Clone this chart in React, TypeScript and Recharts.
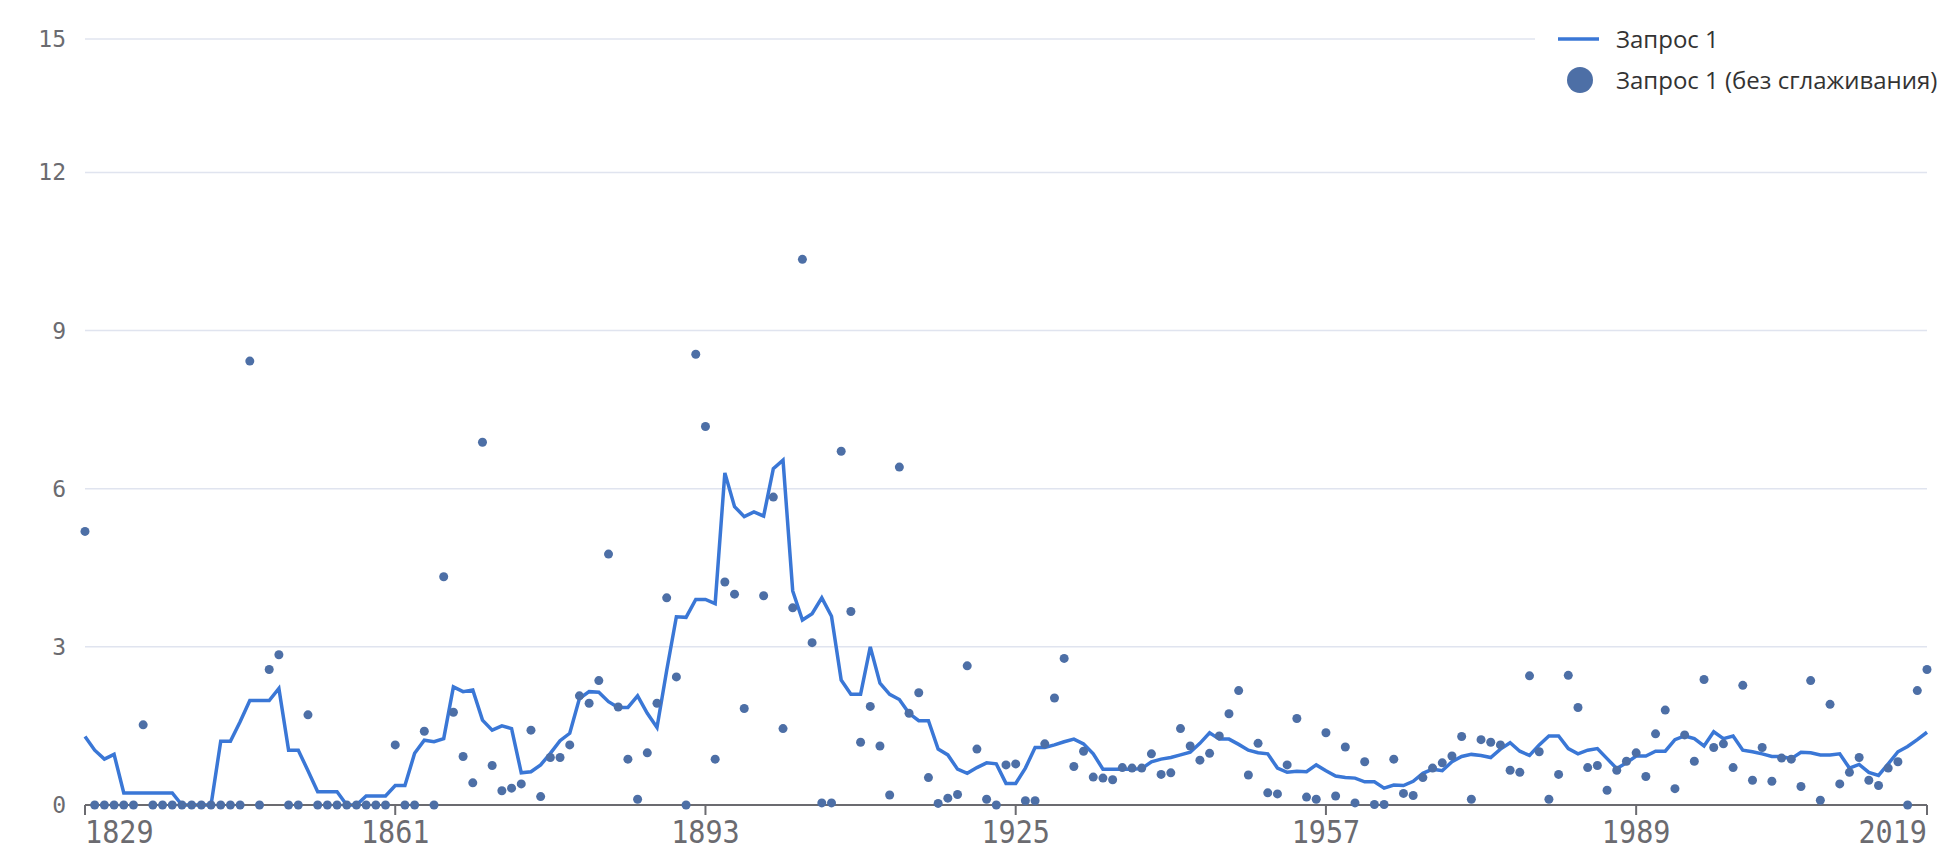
import React from "react";
import {
  LineChart,
  Line,
  XAxis,
  YAxis,
  CartesianGrid,
} from "recharts";

const START_YEAR = 1829;

// smoothed series, one value per year from 1829 to 2019
const smoothed = [
  1.3, 1.04, 0.87, 0.96, 0.23, 0.23, 0.23, 0.23, 0.23, 0.23,
  0, 0, 0, 0, 1.21, 1.21, 1.58, 1.98, 1.98, 1.98,
  2.21, 1.04, 1.04, 0.65, 0.25, 0.25, 0.25, 0, 0, 0.17,
  0.17, 0.17, 0.37, 0.37, 0.98, 1.23, 1.2, 1.26, 2.24, 2.15,
  2.18, 1.61, 1.42, 1.5, 1.45, 0.61, 0.63, 0.76, 0.98, 1.22,
  1.36, 2.02, 2.15, 2.14, 1.96, 1.85, 1.85, 2.07, 1.74, 1.47,
  2.55, 3.57, 3.56, 3.9, 3.9, 3.82, 6.3, 5.66, 5.47, 5.56,
  5.48, 6.38, 6.54, 4.06, 3.51, 3.63, 3.93, 3.58, 2.37, 2.1,
  2.1, 3.0, 2.31, 2.1, 2.0, 1.74, 1.6, 1.6, 1.06, 0.95,
  0.68, 0.6, 0.71, 0.8, 0.78, 0.41, 0.41, 0.7, 1.09, 1.09,
  1.14, 1.2, 1.25, 1.16, 0.97, 0.68, 0.68, 0.68, 0.68, 0.69,
  0.82, 0.87, 0.9, 0.95, 1.0, 1.17, 1.37, 1.25, 1.25, 1.15,
  1.04, 0.99, 0.97, 0.7, 0.62, 0.64, 0.63, 0.76, 0.65, 0.55,
  0.52, 0.51, 0.44, 0.44, 0.32, 0.38, 0.37, 0.45, 0.6, 0.68,
  0.65, 0.82, 0.92, 0.96, 0.94, 0.9, 1.06, 1.18, 1.02, 0.94,
  1.14, 1.31, 1.31, 1.07, 0.97, 1.04, 1.07, 0.88, 0.69, 0.8,
  0.93, 0.93, 1.02, 1.02, 1.24, 1.31, 1.26, 1.12, 1.39, 1.26,
  1.31, 1.04, 1.01, 0.97, 0.92, 0.92, 0.88, 1.0, 0.99, 0.95,
  0.95, 0.97, 0.7, 0.77, 0.62, 0.56, 0.78, 1.01, 1.11, 1.24,
  1.38,
];

// raw yearly values (no smoothing), 1829 to 2019
const raw: (number | null)[] = [
  5.19, 0, 0, 0, 0, 0, 1.52, 0, 0, 0,
  0, 0, 0, 0, 0, 0, 0, 8.42, 0, 2.57,
  2.85, 0, 0, 1.71, 0, 0, 0, 0, 0, 0,
  0, 0, 1.14, 0, 0, 1.4, 0, 4.33, 1.76, 0.92,
  0.42, 6.88, 0.75, 0.27, 0.32, 0.4, 1.42, 0.16, 0.9, 0.9,
  1.14, 2.07, 1.93, 2.36, 4.76, 1.86, 0.87, 0.11, 0.99, 1.93,
  3.93, 2.43, 0, 8.55, 7.18, 0.87, 4.23, 4.0, 1.83, null,
  3.97, 5.84, 1.45, 3.74, 10.35, 3.08, 0.04, 0.04, 6.71, 3.67,
  1.19, 1.87, 1.12, 0.19, 6.41, 1.74, 2.13, 0.52, 0.03, 0.13,
  0.2, 2.64, 1.06, 0.11, 0, 0.76, 0.78, 0.08, 0.08, 1.16,
  2.03, 2.78, 0.73, 1.02, 0.53, 0.51, 0.48, 0.71, 0.7, 0.7,
  0.97, 0.58, 0.61, 1.45, 1.12, 0.85, 0.98, 1.31, 1.73, 2.17,
  0.57, 1.17, 0.23, 0.21, 0.76, 1.64, 0.15, 0.11, 1.37, 0.17,
  1.1, 0.04, 0.82, 0.01, 0.01, 0.87, 0.22, 0.18, 0.52, 0.7,
  0.8, 0.93, 1.3, 0.11, 1.24, 1.19, 1.14, 0.66, 0.62, 2.45,
  1.01, 0.11, 0.58, 2.46, 1.85, 0.71, 0.75, 0.28, 0.66, 0.83,
  0.99, 0.54, 1.35, 1.8, 0.31, 1.33, 0.83, 2.38, 1.09, 1.16,
  0.71, 2.27, 0.47, 1.09, 0.45, 0.89, 0.87, 0.35, 2.36, 0.09,
  1.91, 0.4, 0.62, 0.9, 0.47, 0.37, 0.7, 0.82, 0, 2.17,
  2.57,
];

const xTicks = [1829, 1861, 1893, 1925, 1957, 1989, 2019];
const yTicks = [0, 3, 6, 9, 12, 14.53];

const seriesNames = ["Запрос 1", "Запрос 1 (без сглаживания)"];

const data = smoothed.map((v, i) => ({
  year: START_YEAR + i,
  smooth: v,
  raw: raw[i],
}));

const LINE_COLOR = "#3a77d6";
const DOT_COLOR = "#4d6fa6";
const AXIS_COLOR = "#6b6b70";

const YearTick = (props: any) => {
  const { x, y, payload } = props;
  let anchor = "middle";
  if (payload.value === xTicks[0]) anchor = "start";
  if (payload.value === xTicks[xTicks.length - 1]) anchor = "end";
  return (
    <text
      x={x}
      y={y + 26}
      textAnchor={anchor}
      fill={AXIS_COLOR}
      fontSize={32}
      fontFamily="DejaVu Sans Mono"
      transform={`translate(${x} 0) scale(0.89 1) translate(${-x} 0)`}
    >
      {payload.value}
    </text>
  );
};

const ValueTick = (props: any) => {
  const { x, y, payload } = props;
  return (
    <text
      x={x}
      y={y}
      dy={8}
      textAnchor="end"
      fill={AXIS_COLOR}
      fontSize={23}
      fontFamily="DejaVu Sans Mono"
    >
      {Math.round(payload.value)}
    </text>
  );
};

// legend drawn on top of the chart, top right
const LegendBox = () => (
  <div
    style={{
      position: "absolute",
      left: 1535,
      top: 0,
      width: 419,
      height: 102,
      background: "#fff",
      fontFamily: "'Open Sans', sans-serif",
      fontSize: 24,
      color: "#333",
    }}
  >
    <div style={{ position: "absolute", top: 19, left: 23, height: 40, display: "flex", alignItems: "center" }}>
      <svg width={41} height={40}>
        <line x1={0} x2={41} y1={20} y2={20} stroke={LINE_COLOR} strokeWidth={3.5} />
      </svg>
      <span style={{ marginLeft: 17, lineHeight: "40px" }}>{seriesNames[0]}</span>
    </div>
    <div style={{ position: "absolute", top: 60, left: 23, height: 40, display: "flex", alignItems: "center" }}>
      <svg width={41} height={40}>
        <circle cx={22} cy={20} r={13} fill={DOT_COLOR} />
      </svg>
      <span style={{ marginLeft: 17, lineHeight: "40px" }}>{seriesNames[1]}</span>
    </div>
  </div>
);

export default function App() {
  return (
    <div style={{ position: "absolute", left: 0, top: 0, width: 1954, height: 856, background: "#fff" }}>
      <LineChart
        width={1954}
        height={856}
        data={data}
        margin={{ top: 39, right: 27, bottom: 11, left: 25 }}
      >
        <CartesianGrid vertical={false} stroke="#e0e4ef" strokeWidth={1.5} />
        <XAxis
          dataKey="year"
          type="number"
          domain={[1829, 2019]}
          ticks={xTicks}
          interval={0}
          height={40}
          axisLine={{ stroke: AXIS_COLOR, strokeWidth: 2 }}
          tickLine={{ stroke: AXIS_COLOR, strokeWidth: 2 }}
          tickSize={10}
          tick={<YearTick />}
        />
        <YAxis
          width={60}
          domain={[0, 14.53]}
          ticks={yTicks}
          interval={0}
          axisLine={false}
          tickLine={false}
          tickSize={0}
          tickMargin={19}
          tick={<ValueTick />}
        />
        <Line
          dataKey="smooth"
          name={seriesNames[0]}
          stroke={LINE_COLOR}
          strokeWidth={3.5}
          dot={false}
          activeDot={false}
          isAnimationActive={false}
        />
        <Line
          dataKey="raw"
          name={seriesNames[1]}
          stroke="none"
          dot={{ r: 4.5, fill: DOT_COLOR, stroke: "none" }}
          activeDot={false}
          isAnimationActive={false}
        />
      </LineChart>
      <LegendBox />
    </div>
  );
}
